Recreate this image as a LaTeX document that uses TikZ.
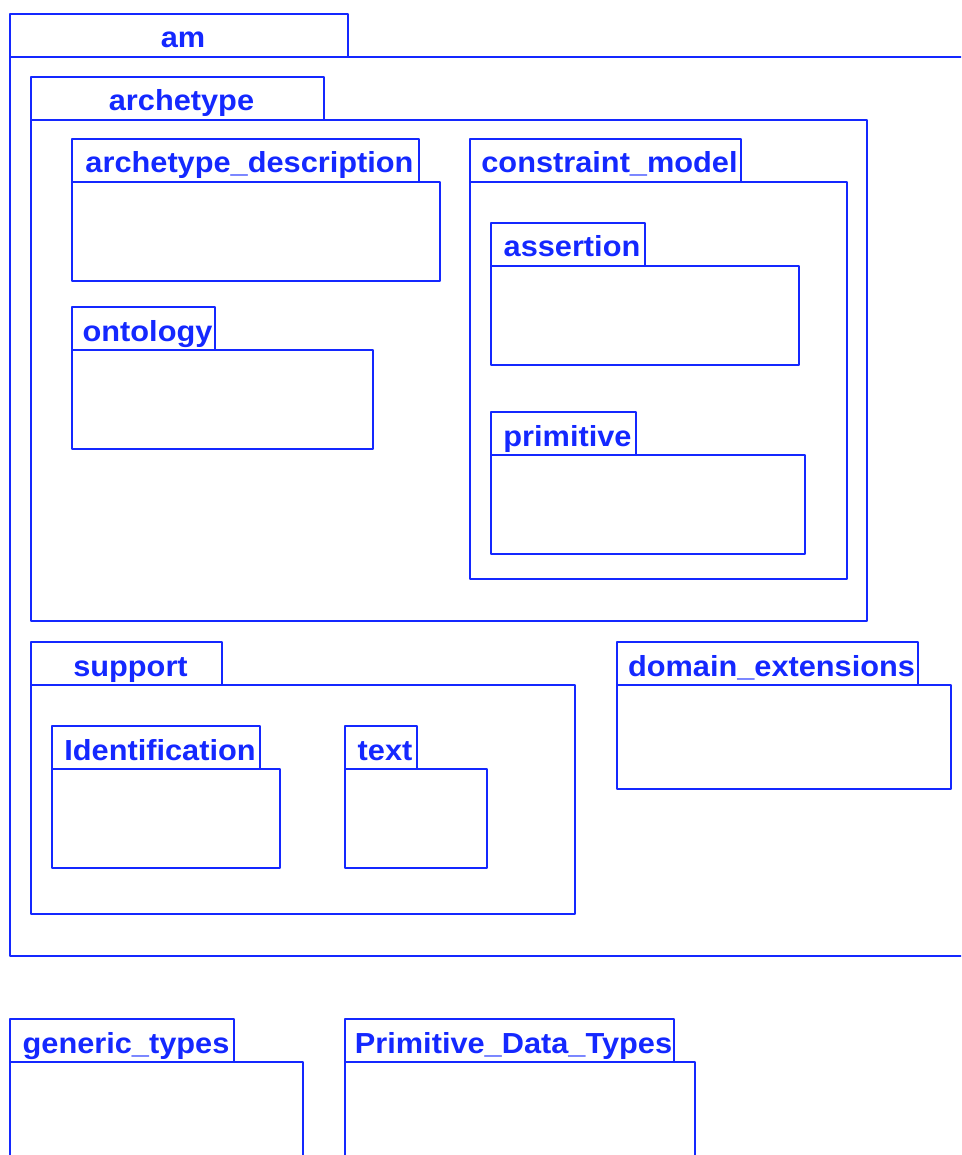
\documentclass[tikz,border=0pt]{standalone}
\usepackage{fontspec}
\usepackage{graphicx}
\setmainfont{Liberation Sans}
\definecolor{pkgblue}{RGB}{20,40,255}
\newcommand{\pkgname}[1]{\hspace*{8pt}\scalebox{1.06}[1]{#1}}
\tikzset{pkgtab/.style={draw=pkgblue, line width=2.6pt, line join=round, text=pkgblue, font=\bfseries\fontsize{29}{30}\selectfont, anchor=north west, inner sep=0pt, outer sep=0pt, minimum height=43pt, text height=26.5pt, text depth=1.5pt},
  pkgbody/.style={draw=pkgblue, line width=2.6pt, line join=round, anchor=north west, inner sep=0pt, outer sep=0pt}}

\begin{document}
\begin{tikzpicture}[x=1pt,y=-1pt]
      \path[use as bounding box,clip] (0,0) rectangle (961,1155);

      \node[pkgtab,minimum width=338pt] (am-tab) at (10,14) {\pkgname{am}};
      \node[pkgbody,minimum width=1000pt,minimum height=899pt] (am) at (10,57) {};

      \node[pkgtab,minimum width=293pt] (archetype-tab) at (31,77) {\pkgname{archetype}};
      \node[pkgbody,minimum width=836pt,minimum height=501pt] (archetype) at (31,120) {};

      \node[pkgtab,minimum width=347pt] (description-tab) at (72,139) {\pkgname{archetype\_description}};
      \node[pkgbody,minimum width=368pt,minimum height=99pt] (description) at (72,182) {};

      \node[pkgtab,minimum width=143pt] (ontology-tab) at (72,307) {\pkgname{ontology}};
      \node[pkgbody,minimum width=301pt,minimum height=99pt] (ontology) at (72,350) {};

      \node[pkgtab,minimum width=271pt] (constraint-tab) at (470,139) {\pkgname{constraint\_model}};
      \node[pkgbody,minimum width=377pt,minimum height=397pt] (constraint) at (470,182) {};

      \node[pkgtab,minimum width=154pt] (assertion-tab) at (491,223) {\pkgname{assertion}};
      \node[pkgbody,minimum width=308pt,minimum height=99pt] (assertion) at (491,266) {};

      \node[pkgtab,minimum width=145pt] (primitive-tab) at (491,412) {\pkgname{primitive}};
      \node[pkgbody,minimum width=314pt,minimum height=99pt] (primitive) at (491,455) {};

      \node[pkgtab,minimum width=191pt] (support-tab) at (31,642) {\pkgname{support}};
      \node[pkgbody,minimum width=544pt,minimum height=229pt] (support) at (31,685) {};

      \node[pkgtab,minimum width=208pt] (identification-tab) at (52,726) {\pkgname{Identification}};
      \node[pkgbody,minimum width=228pt,minimum height=99pt] (identification) at (52,769) {};

      \node[pkgtab,minimum width=72pt] (text-tab) at (345,726) {\pkgname{text}};
      \node[pkgbody,minimum width=142pt,minimum height=99pt] (text) at (345,769) {};

      \node[pkgtab,minimum width=301pt] (domain-tab) at (617,642) {\pkgname{domain\_extensions}};
      \node[pkgbody,minimum width=334pt,minimum height=104pt] (domain) at (617,685) {};

      \node[pkgtab,minimum width=224pt] (generic-tab) at (10,1019) {\pkgname{generic\_types}};
      \node[pkgbody,minimum width=293pt,minimum height=150pt] (generic) at (10,1062) {};

      \node[pkgtab,minimum width=329pt] (datatypes-tab) at (345,1019) {\pkgname{Primitive\_Data\_Types}};
      \node[pkgbody,minimum width=350pt,minimum height=150pt] (datatypes) at (345,1062) {};
\end{tikzpicture}
\end{document}
